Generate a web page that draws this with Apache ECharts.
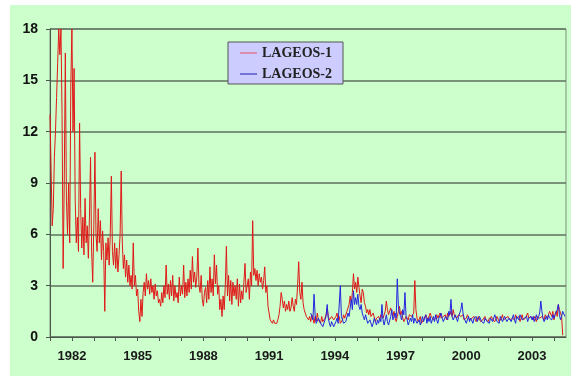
<!DOCTYPE html>
<html>
<head>
<meta charset="utf-8">
<script src="https://cdn.jsdelivr.net/npm/echarts@6/dist/echarts.min.js"></script>
<style>
  html, body { margin: 0; padding: 0; background: #ffffff; }
  #wrap { position: relative; width: 571px; height: 376px; overflow: hidden; }
  #chart { position: absolute; left: 10px; top: 5px; width: 561px; height: 371px; }
</style>
</head>
<body>
<div id="wrap"><div id="chart"></div></div>
<script>
var sampleStep = 0.05;
var lageos1Start = 1981.0;
var lageos2Start = 1992.9;

var lageos1Values = [
  13.0, 9.8, 6.5, 7.5, 10.5, 12.0, 14.0, 16.0, 18.0, 16.5, 18.0, 13.0, 4.0, 9.0, 16.6, 8.0, 6.0, 9.0, 5.5, 14.8, // 1981
  18.0, 12.0, 15.7, 8.0, 5.5, 7.0, 5.0, 12.5, 7.5, 5.2, 7.0, 4.8, 8.1, 5.5, 6.5, 4.6, 7.0, 10.5, 5.0, 3.2,        // 1982
  6.5, 10.8, 6.0, 5.0, 7.5, 5.5, 6.8, 4.5, 6.2, 5.0, 1.5, 5.5, 4.5, 5.8, 4.2, 6.0, 9.4, 5.0, 4.2, 5.5,            // 1983
  4.0, 5.2, 3.8, 4.8, 6.0, 9.7, 5.5, 4.0, 4.8, 3.5, 4.5, 3.2, 4.2, 3.0, 3.6, 2.8, 5.5, 3.0, 3.6, 2.4,             // 1984
  2.8, 1.5, 0.9, 2.2, 1.2, 2.6, 3.2, 2.4, 3.7, 2.8, 3.3, 2.5, 3.4, 2.6, 3.0, 2.2, 3.1, 2.4, 2.7, 2.0,             // 1985
  2.2, 1.8, 2.6, 2.0, 3.0, 2.3, 4.2, 2.5, 3.1, 2.2, 3.3, 2.4, 3.6, 2.1, 3.0, 2.3, 2.6, 2.0, 3.5, 2.4,             // 1986
  3.0, 2.5, 4.2, 2.3, 3.2, 2.4, 3.4, 2.6, 3.9, 2.8, 4.7, 3.2, 3.8, 2.9, 3.5, 5.2, 3.0, 2.6, 3.6, 2.2,             // 1987
  1.8, 2.6, 2.9, 2.0, 3.3, 2.2, 4.1, 2.6, 3.4, 2.4, 4.8, 3.1, 4.2, 2.5, 3.0, 1.6, 2.2, 1.2, 2.4, 1.6,             // 1988
  3.0, 5.3, 2.4, 3.6, 2.1, 3.3, 1.9, 3.2, 2.4, 3.0, 2.2, 3.4, 1.8, 3.1, 2.0, 2.7, 2.2, 3.2, 4.3, 2.6,             // 1989
  2.7, 3.4, 2.2, 3.8, 3.0, 6.8, 3.6, 4.0, 3.3, 3.9, 3.0, 3.7, 3.2, 3.5, 2.8, 3.3, 4.1, 2.6, 3.0, 1.8,             // 1990
  1.4, 1.0, 0.9, 0.8, 1.0, 0.8, 0.9, 0.8, 1.0, 1.3, 1.8, 2.6, 2.2, 1.7, 2.1, 1.5, 1.9, 1.6, 2.1, 1.5,             // 1991
  1.7, 2.3, 1.8, 1.5, 2.2, 1.9, 3.0, 4.4, 2.6, 2.2, 3.2, 2.0, 1.6, 1.4, 1.2, 1.3, 1.0, 1.2, 0.9, 1.3,             // 1992
  1.1, 0.8, 1.2, 0.9, 1.4, 1.0, 1.1, 0.8, 1.2, 0.9, 0.8, 1.1, 1.3, 1.7, 1.2, 1.0, 0.9, 1.2, 1.3, 1.0,             // 1993
  1.0, 1.2, 1.4, 1.0, 1.2, 0.8, 0.7, 1.0, 1.3, 1.1, 1.2, 1.5, 1.6, 1.9, 2.4, 2.0, 2.6, 3.7, 2.8, 3.2,             // 1994
  2.6, 3.5, 2.9, 2.4, 2.0, 2.8, 2.6, 2.0, 1.8, 1.4, 1.6, 1.3, 1.6, 1.2, 1.1, 1.4, 1.3, 0.9, 1.1, 1.2,             // 1995
  1.2, 1.0, 1.3, 1.4, 1.1, 1.2, 1.5, 2.1, 1.6, 1.3, 1.2, 1.7, 1.4, 1.2, 1.5, 1.1, 0.9, 1.2, 1.5, 1.8,             // 1996
  1.3, 1.5, 1.1, 0.9, 0.8, 1.2, 1.1, 1.0, 1.3, 1.4, 1.2, 1.1, 1.4, 3.3, 1.6, 1.1, 0.9, 1.0, 1.2, 0.8,             // 1997
  0.8, 1.0, 1.1, 1.3, 1.2, 1.0, 1.1, 1.4, 1.2, 1.3, 1.0, 0.9, 1.1, 1.3, 1.1, 1.2, 1.4, 1.1, 1.0, 1.2,             // 1998
  1.1, 1.3, 1.0, 1.4, 1.2, 1.1, 1.5, 1.2, 1.6, 1.3, 1.2, 1.1, 1.0, 1.3, 1.4, 1.2, 1.1, 1.3, 1.0, 1.1,             // 1999
  1.1, 1.3, 1.2, 1.0, 0.9, 1.1, 1.0, 1.2, 1.1, 0.9, 1.0, 1.2, 1.1, 0.9, 0.8, 1.0, 1.1, 1.2, 1.0, 0.9,             // 2000
  0.9, 1.1, 1.0, 1.2, 1.0, 1.1, 0.9, 1.0, 1.2, 1.1, 0.9, 1.0, 1.1, 1.3, 1.0, 0.9, 1.1, 1.0, 1.2, 1.1,             // 2001
  1.0, 0.9, 1.1, 1.2, 1.0, 1.3, 1.1, 1.0, 1.2, 0.9, 1.1, 1.3, 1.0, 0.9, 1.1, 1.2, 1.4, 1.1, 1.0, 1.2,             // 2002
  1.1, 1.0, 1.2, 1.1, 0.9, 1.2, 1.3, 1.1, 1.0, 1.2, 1.1, 1.0, 1.3, 1.2, 1.1, 1.3, 1.5, 1.4, 1.2, 1.5,             // 2003
  1.0, 1.3, 1.5, 1.2, 1.9, 1.6, 1.4, 1.2, 0.1                                                                    // 2004
];

var lageos2Values = [
  1.4, 1.2,                                                                                                      // 1992.9
  1.0, 2.5, 1.3, 0.8, 0.7, 1.1, 1.2, 0.8, 0.9, 0.6, 0.7, 1.0, 1.2, 1.9, 1.1, 0.8, 0.6, 0.9, 0.8, 0.6,             // 1993
  0.7, 0.9, 1.1, 0.8, 0.9, 3.0, 1.2, 1.3, 0.8, 0.7, 0.9, 1.0, 1.4, 1.2, 1.7, 2.2, 1.6, 2.7, 1.9, 2.3,             // 1994
  1.9, 2.5, 1.8, 1.6, 1.9, 1.4, 1.2, 1.0, 1.3, 1.2, 0.8, 0.7, 1.0, 0.9, 0.6, 0.8, 1.1, 0.9, 0.7, 1.0,             // 1995
  0.8, 1.1, 0.9, 1.9, 1.0, 0.7, 0.8, 1.3, 0.9, 0.7, 0.8, 1.2, 1.6, 1.0, 1.2, 1.4, 1.1, 3.4, 1.8, 1.4,             // 1996
  1.2, 1.0, 1.6, 1.3, 2.6, 1.2, 1.0, 0.7, 0.9, 1.1, 0.9, 1.3, 0.8, 1.1, 1.0, 0.8, 0.9, 1.0, 0.7, 0.9,             // 1997
  1.2, 0.9, 1.0, 1.3, 0.8, 1.1, 0.9, 1.2, 0.8, 1.0, 1.2, 0.9, 1.3, 1.0, 0.8, 1.1, 1.0, 1.4, 1.1, 0.9,             // 1998
  1.0, 1.2, 1.1, 1.0, 1.5, 1.3, 2.2, 1.2, 1.0, 0.9, 1.3, 1.1, 0.9, 1.2, 1.1, 1.6, 2.0, 1.4, 1.1, 1.0,             // 1999
  0.8, 1.0, 1.2, 0.9, 1.1, 1.0, 0.8, 1.1, 1.0, 1.2, 0.9, 1.0, 1.2, 1.1, 0.9, 1.0, 0.8, 1.1, 1.0, 0.9,             // 2000
  1.0, 0.8, 1.1, 1.2, 0.9, 1.0, 1.3, 1.1, 0.9, 1.0, 0.8, 1.2, 1.1, 0.9, 1.0, 1.2, 1.1, 0.9, 1.0, 1.1,             // 2001
  1.1, 0.9, 1.0, 1.3, 1.0, 0.8, 1.2, 1.1, 1.0, 1.3, 1.4, 1.0, 0.9, 1.1, 1.0, 1.2, 0.9, 1.1, 1.0, 1.2,             // 2002
  1.0, 1.2, 0.9, 1.1, 1.3, 1.0, 1.2, 1.4, 2.1, 1.5, 1.1, 0.9, 1.0, 1.2, 1.0, 1.3, 1.1, 1.2, 1.0, 1.3,             // 2003
  1.1, 1.3, 1.4, 1.6, 1.9, 1.3, 1.0, 1.2, 1.5, 1.4, 1.2                                                          // 2004
];

var xLabelYears = [1982, 1985, 1988, 1991, 1994, 1997, 2000, 2003];

function toPairs(start, values) {
  return values.map(function (v, i) {
    return [Math.round((start + i * sampleStep) * 1000) / 1000, v];
  });
}

var chart = echarts.init(document.getElementById('chart'), null, { renderer: 'canvas' });

var option = {
  backgroundColor: '#ccffcc',
  animation: false,
  grid: {
    left: 40,
    right: 5,
    top: 24,
    bottom: 39,
    show: true,
    borderColor: '#7d907d',
    borderWidth: 1,
    backgroundColor: 'transparent'
  },
  legend: {
    orient: 'vertical',
    left: 218,
    top: 37,
    backgroundColor: '#ccccff',
    borderColor: '#555555',
    borderWidth: 1,
    padding: [3, 11, 2, 12],
    icon: 'rect',
    itemWidth: 17,
    itemHeight: 1.5,
    itemGap: 5,
    textStyle: {
      fontFamily: 'Liberation Serif',
      fontWeight: 'bold',
      fontSize: 14,
      lineHeight: 16,
      color: '#222222'
    },
    data: [
      { name: 'LAGEOS-1', itemStyle: { color: '#e07a8c' } },
      { name: 'LAGEOS-2', itemStyle: { color: '#5858c8' } }
    ]
  },
  xAxis: {
    type: 'value',
    min: 1981,
    max: 2004.55,
    interval: 1,
    axisLine: { show: true, lineStyle: { color: '#4a574a', width: 1 } },
    axisTick: { show: true, length: 4, lineStyle: { color: '#4a574a' } },
    splitLine: { show: false },
    axisLabel: {
      margin: 13,
      fontFamily: 'Liberation Sans',
      fontWeight: 'bold',
      fontSize: 13,
      color: '#1a1a1a',
      showMaxLabel: false,
      formatter: function (v) {
        return xLabelYears.indexOf(Math.round(v * 100) / 100) >= 0 ? String(v) : '';
      }
    }
  },
  yAxis: {
    type: 'value',
    min: 0,
    max: 18,
    interval: 3,
    axisLine: { show: true, lineStyle: { color: '#4a574a', width: 1 } },
    axisTick: { show: true, length: 4, lineStyle: { color: '#4a574a' } },
    splitLine: { show: true, lineStyle: { color: '#5f705f', width: 1.5 } },
    axisLabel: {
      margin: 12,
      fontFamily: 'Liberation Sans',
      fontWeight: 'bold',
      fontSize: 14,
      color: '#111111'
    }
  },
  series: [
    {
      name: 'LAGEOS-1',
      type: 'line',
      symbol: 'none',
      data: toPairs(lageos1Start, lageos1Values),
      lineStyle: { color: '#e01818', width: 1 },
      itemStyle: { color: '#e01818' },
      z: 2
    },
    {
      name: 'LAGEOS-2',
      type: 'line',
      symbol: 'none',
      data: toPairs(lageos2Start, lageos2Values),
      lineStyle: { color: '#2424e0', width: 1 },
      itemStyle: { color: '#2424e0' },
      z: 3
    }
  ]
};

chart.setOption(option);
</script>
</body>
</html>
